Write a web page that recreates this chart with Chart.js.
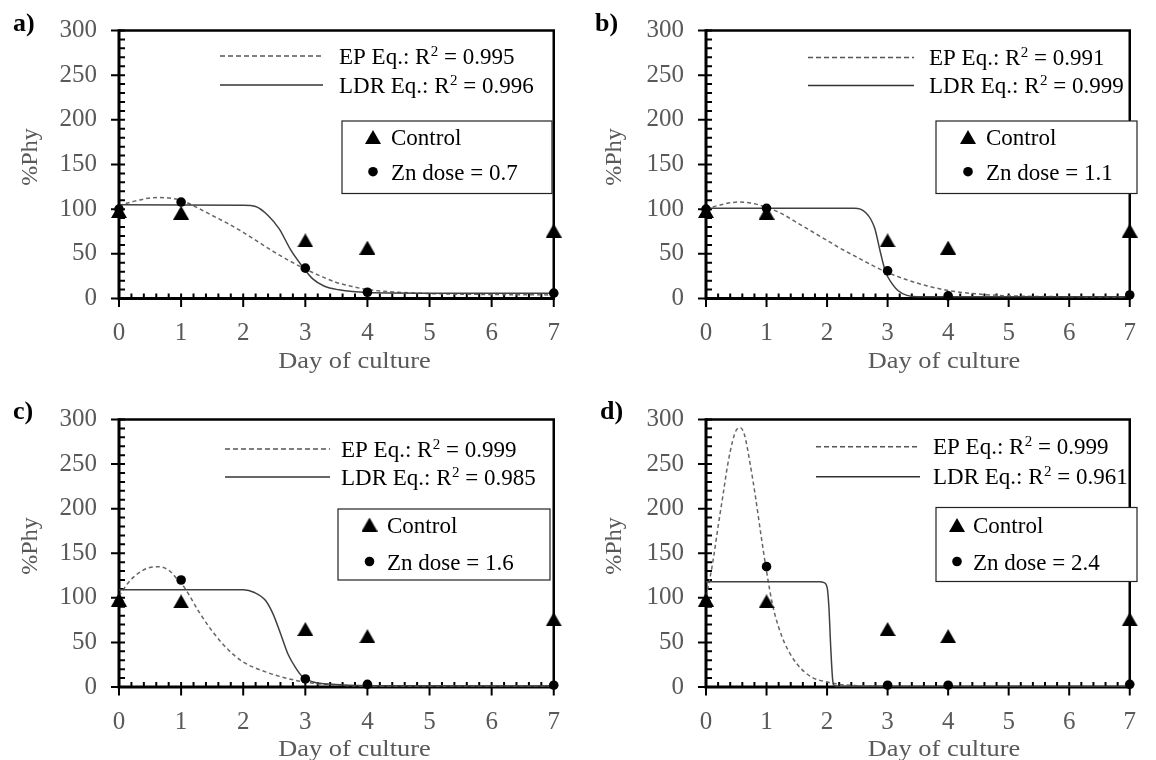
<!DOCTYPE html>
<html><head><meta charset="utf-8">
<script src="https://cdn.jsdelivr.net/npm/chart.js@4.4.1/dist/chart.umd.min.js"></script>
<style>
html,body{margin:0;padding:0;background:#fff;}
body{width:1156px;height:760px;position:relative;overflow:hidden;}
canvas{position:absolute;}
</style></head><body>
<canvas id="ca" width="580" height="390" style="left:0px;top:-10px"></canvas>
<canvas id="cb" width="576" height="390" style="left:580px;top:-10px"></canvas>
<canvas id="cc" width="580" height="380" style="left:0px;top:380px"></canvas>
<canvas id="cd" width="576" height="380" style="left:580px;top:380px"></canvas>
<script>
// ---------- data ----------
const days = [0, 1, 3, 4, 7];
const control = [98, 96, 65, 57, 76];
const znA = [100, 108, 34, 7, 6];
const znB = [100, 101, 31, 3, 4];
const znC = [95, 120, 9, 3, 2];
const znD = [95, 135, 2, 2, 3];
const xTicks = [0, 1, 2, 3, 4, 5, 6, 7];
const yTicks = [0, 50, 100, 150, 200, 250, 300];
const panelLetters = ['a)', 'b)', 'c)', 'd)'];
const doses = ['0.7', '1.1', '1.6', '2.4'];
const r2EP = ['0.995', '0.991', '0.999', '0.999'];
const r2LDR = ['0.996', '0.999', '0.985', '0.961'];

const epA_x = [0,0.25,0.5,0.65,0.8,1.0,1.25,1.5,1.75,2.0,2.25,2.5,2.75,3.0,3.25,3.5,3.75,4.0,4.5,5,6,7];
const epA_y = [104,109,112.5,113,112.5,110,102,93,84,74,63,52,42,33,25,18,13.5,10,7,5.5,4.5,4];
const ldrA_x = [0,2.0,2.2,2.4,2.58,2.76,2.94,3.12,3.3,3.54,4,5,7];
const ldrA_y = [105,104.5,103,93,78,55,37,22,14,9.7,6.7,6,6];

const epB_x = [0,0.25,0.55,0.8,1.0,1.25,1.5,1.75,2.0,2.25,2.5,2.75,3.0,3.5,4.0,4.5,5,6,7];
const epB_y = [100,105,108,106,102,95,85,75,65,55,46,37,29,17,9,5,3,2,1.5];
const ldrB_x = [0,2.45,2.55,2.64,2.72,2.79,2.88,2.97,3.07,3.17,3.32,3.5,4,7];
const ldrB_y = [101,101,100,96,89,78,52,29,17,9,3.5,2,2,2];

const epC_x = [0,0.15,0.3,0.45,0.62,0.8,0.95,1.05,1.29,1.53,1.77,2.0,2.36,2.84,3.19,3.6,4,5,7];
const epC_y = [102,117,127,133,135,131,120,112,84,60,41,28,17,7.5,3.7,1.8,1,0.5,0.3];
const ldrC_x = [0,2.0,2.18,2.36,2.48,2.6,2.72,2.84,2.96,3.13,3.43,4,7];
const ldrC_y = [109,109,106,97,82,60,37,22,11,5.6,3,1.5,1];

const epD_x = [0,0.1,0.2,0.28,0.36,0.44,0.5,0.56,0.63,0.73,0.82,0.92,1.0,1.1,1.2,1.3,1.5,1.75,2.0,2.2,2.5,3,7];
const epD_y = [101,135,180,215,250,276,288,291,284,250,212,165,130,92,67,49,26,11,5.6,3,1.5,0.5,0];
const ldrD_x = [0,1.88,1.95,2.0,2.03,2.06,2.09,2.11,2.2,7];
const ldrD_y = [118,118,117,112,90,45,10,2,0.5,0.5];

// ---------- layout (page coordinates) ----------
const layouts = [
  {id:'ca', cx:0, cy:-10, w:580, h:390, area:{l:119, r:556, t:30.5, b:298.5}, letter:[13,31],
   dash:[220,323], ly:[56,85], tx:339, box:{x:342,y:121,w:210,h:72.5}, mk:[31,49], my:[16,50.7],
   ytitle:[31,157], xtitle:[354.5,368]},
  {id:'cb', cx:580, cy:-10, w:576, h:390, area:{l:706, r:1141.5, t:30.5, b:298.5}, letter:[595,31],
   dash:[808,914], ly:[57.5,85.5], tx:929, box:{x:936,y:121,w:201,h:72.5}, mk:[32,50], my:[16,50.7],
   ytitle:[614.6,157], xtitle:[944,368]},
  {id:'cc', cx:0, cy:380, w:580, h:380, area:{l:119, r:556, t:419.5, b:687}, letter:[13,419],
   dash:[225,330], ly:[449,477], tx:341, box:{x:338,y:509,w:212,h:71}, mk:[31.5,49], my:[15.5,52.5],
   ytitle:[31,546], xtitle:[354.5,756]},
  {id:'cd', cx:580, cy:380, w:576, h:380, area:{l:706, r:1140.5, t:419.5, b:687}, letter:[600,419],
   dash:[816,920], ly:[446.7,476.7], tx:933, box:{x:936,y:507.5,w:201,h:74}, mk:[21,37], my:[17.5,54],
   ytitle:[614.6,546], xtitle:[944,756]}
];

const panels = [
  {zn:znA, epx:epA_x, epy:epA_y, ldx:ldrA_x, ldy:ldrA_y},
  {zn:znB, epx:epB_x, epy:epB_y, ldx:ldrB_x, ldy:ldrB_y},
  {zn:znC, epx:epC_x, epy:epC_y, ldx:ldrC_x, ldy:ldrC_y},
  {zn:znD, epx:epD_x, epy:epD_y, ldx:ldrD_x, ldy:ldrD_y}
];

const SERIF = '"Liberation Serif", "Times New Roman", serif';
Chart.defaults.font.family = SERIF;
Chart.defaults.animation = false;

function triImg(w, h) {
  const c = document.createElement('canvas');
  c.width = w; c.height = h;
  const g = c.getContext('2d');
  g.fillStyle = '#000';
  g.beginPath(); g.moveTo(w / 2, 0); g.lineTo(w, h); g.lineTo(0, h); g.closePath(); g.fill();
  return c;
}
const TRI = triImg(16, 14);

function pairs(xs, ys) { return xs.map((v, i) => ({x: v, y: ys[i]})); }

const deco = {
  id: 'deco',
  beforeDatasetsDraw(chart, args, o) {
    const {ctx, chartArea: ca, scales: {x, y}} = chart;
    ctx.save();
    ctx.strokeStyle = '#000';
    ctx.lineWidth = 2.5;
    ctx.beginPath();
    ctx.moveTo(ca.left, ca.top); ctx.lineTo(ca.right, ca.top); ctx.lineTo(ca.right, ca.bottom);
    ctx.stroke();
    ctx.lineWidth = 3;
    ctx.beginPath();
    ctx.moveTo(ca.left, ca.top - 1.2); ctx.lineTo(ca.left, ca.bottom); ctx.lineTo(ca.right + 1.2, ca.bottom);
    ctx.stroke();
    ctx.lineWidth = 2;
    ctx.beginPath();
    const ymaj = y.ticks.map(t => t.value);
    for (let k = 0; k < ymaj.length; k++) {
      const py = y.getPixelForValue(ymaj[k]);
      ctx.moveTo(ca.left - 8, py); ctx.lineTo(ca.left + 6, py);
      if (k < ymaj.length - 1) {
        const step = (ymaj[k + 1] - ymaj[k]) / 5;
        for (let m = 1; m < 5; m++) {
          const pm = y.getPixelForValue(ymaj[k] + m * step);
          ctx.moveTo(ca.left, pm); ctx.lineTo(ca.left + 6, pm);
        }
      }
    }
    const xmaj = x.ticks.map(t => t.value);
    for (let k = 0; k < xmaj.length; k++) {
      const px = x.getPixelForValue(xmaj[k]);
      ctx.moveTo(px, ca.bottom + 8.5); ctx.lineTo(px, ca.bottom - 5);
      if (k < xmaj.length - 1) {
        const step = (xmaj[k + 1] - xmaj[k]) / 5;
        for (let m = 1; m < 5; m++) {
          const pm = x.getPixelForValue(xmaj[k] + m * step);
          ctx.moveTo(pm, ca.bottom); ctx.lineTo(pm, ca.bottom - 5);
        }
      }
    }
    ctx.stroke();
    ctx.restore();
  },
  afterDraw(chart, args, o) {
    const ctx = chart.ctx;
    const L = o.L;
    ctx.save();
    ctx.translate(-L.cx, -L.cy);
    // panel letter
    ctx.fillStyle = '#000';
    ctx.font = 'bold 26px ' + SERIF;
    ctx.textAlign = 'left'; ctx.textBaseline = 'alphabetic';
    ctx.fillText(o.letter, L.letter[0], L.letter[1]);
    // axis titles
    ctx.fillStyle = '#595959';
    ctx.font = '24px ' + SERIF;
    ctx.save();
    ctx.translate(L.ytitle[0], L.ytitle[1]);
    ctx.rotate(-Math.PI / 2);
    ctx.textAlign = 'center'; ctx.textBaseline = 'middle';
    ctx.fillText('%Phy', 0, 0);
    ctx.restore();
    ctx.save();
    ctx.translate(L.xtitle[0], L.xtitle[1]);
    ctx.scale(1.1, 1);
    ctx.textAlign = 'center'; ctx.textBaseline = 'alphabetic';
    ctx.fillText('Day of culture', 0, 0);
    ctx.restore();
    // line legend
    ctx.strokeStyle = '#555';
    ctx.lineWidth = 1.6;
    ctx.setLineDash([5, 3]);
    ctx.beginPath(); ctx.moveTo(L.dash[0], L.ly[0]); ctx.lineTo(L.dash[1], L.ly[0]); ctx.stroke();
    ctx.setLineDash([]);
    ctx.strokeStyle = '#333';
    ctx.beginPath(); ctx.moveTo(L.dash[0], L.ly[1]); ctx.lineTo(L.dash[1], L.ly[1]); ctx.stroke();
    function eq(label, r2, yb) {
      ctx.fillStyle = '#000';
      ctx.textAlign = 'left'; ctx.textBaseline = 'alphabetic';
      ctx.font = '23px ' + SERIF;
      const t1 = label + ' Eq.: R';
      ctx.fillText(t1, L.tx, yb);
      let w = ctx.measureText(t1).width + 0.5;
      ctx.font = '15px ' + SERIF;
      ctx.fillText('2', L.tx + w, yb - 8);
      w += ctx.measureText('2').width;
      ctx.font = '23px ' + SERIF;
      ctx.fillText(' = ' + r2, L.tx + w, yb);
    }
    eq('EP', o.r2ep, L.ly[0] + 7.5);
    eq('LDR', o.r2ldr, L.ly[1] + 7.5);
    // boxed legend
    const B = L.box;
    ctx.fillStyle = '#fff';
    ctx.fillRect(B.x, B.y, B.w, B.h);
    ctx.strokeStyle = '#222';
    ctx.lineWidth = 1.2;
    ctx.strokeRect(B.x, B.y, B.w, B.h);
    ctx.drawImage(TRI, B.x + L.mk[0] - TRI.width / 2, B.y + L.my[0] - TRI.height / 2);
    ctx.fillStyle = '#000';
    ctx.beginPath(); ctx.arc(B.x + L.mk[0], B.y + L.my[1], 4.8, 0, Math.PI * 2); ctx.fill();
    ctx.font = '23px ' + SERIF;
    ctx.textAlign = 'left'; ctx.textBaseline = 'alphabetic';
    ctx.fillText('Control', B.x + L.mk[1], B.y + L.my[0] + 8);
    ctx.fillText('Zn dose = ' + o.dose, B.x + L.mk[1], B.y + L.my[1] + 8.5);
    ctx.restore();
  }
};

layouts.forEach((L, i) => {
  const P = panels[i];
  const area = {l: L.area.l - L.cx, r: L.area.r - L.cx, t: L.area.t - L.cy, b: L.area.b - L.cy};
  const XH = 60;
  new Chart(document.getElementById(L.id), {
    type: 'scatter',
    data: {
      datasets: [
        {label: 'Control', data: pairs(days, control), pointStyle: TRI, pointRadius: 7,
         backgroundColor: '#000', borderWidth: 0, clip: false},
        {label: 'Zn dose = ' + doses[i], data: pairs(days, P.zn), pointStyle: 'circle', pointRadius: 4.8,
         backgroundColor: '#000', borderColor: '#000', borderWidth: 0, clip: false},
        {label: 'LDR', data: pairs(P.ldx, P.ldy), showLine: true, pointRadius: 0, borderColor: '#404040',
         borderWidth: 1.5, cubicInterpolationMode: 'monotone', fill: false},
        {label: 'EP', data: pairs(P.epx, P.epy), showLine: true, pointRadius: 0, borderColor: '#666',
         borderWidth: 1.5, borderDash: [4, 3], cubicInterpolationMode: 'monotone', fill: false}
      ]
    },
    options: {
      responsive: false,
      devicePixelRatio: 1,
      animation: false,
      layout: {padding: {left: 0, top: area.t, right: L.w - area.r, bottom: L.h - area.b - XH}},
      plugins: {
        legend: {display: false}, tooltip: {enabled: false},
        deco: {L: L, letter: panelLetters[i], dose: doses[i], r2ep: r2EP[i], r2ldr: r2LDR[i]}
      },
      scales: {
        x: {type: 'linear', min: 0, max: 7,
            afterBuildTicks: s => { s.ticks = xTicks.map(v => ({value: v})); },
            afterFit: s => { s.height = XH; },
            grid: {display: false, drawTicks: false}, border: {display: false},
            ticks: {color: '#595959', font: {size: 25, family: SERIF}, padding: 20, maxRotation: 0}},
        y: {type: 'linear', min: 0, max: 300,
            afterBuildTicks: s => { s.ticks = yTicks.map(v => ({value: v})); },
            afterFit: s => { s.width = area.l; },
            grid: {display: false, drawTicks: false}, border: {display: false},
            ticks: {color: '#595959', font: {size: 25, family: SERIF}, padding: 22}}
      }
    },
    plugins: [deco]
  });
});
</script>
</body></html>
